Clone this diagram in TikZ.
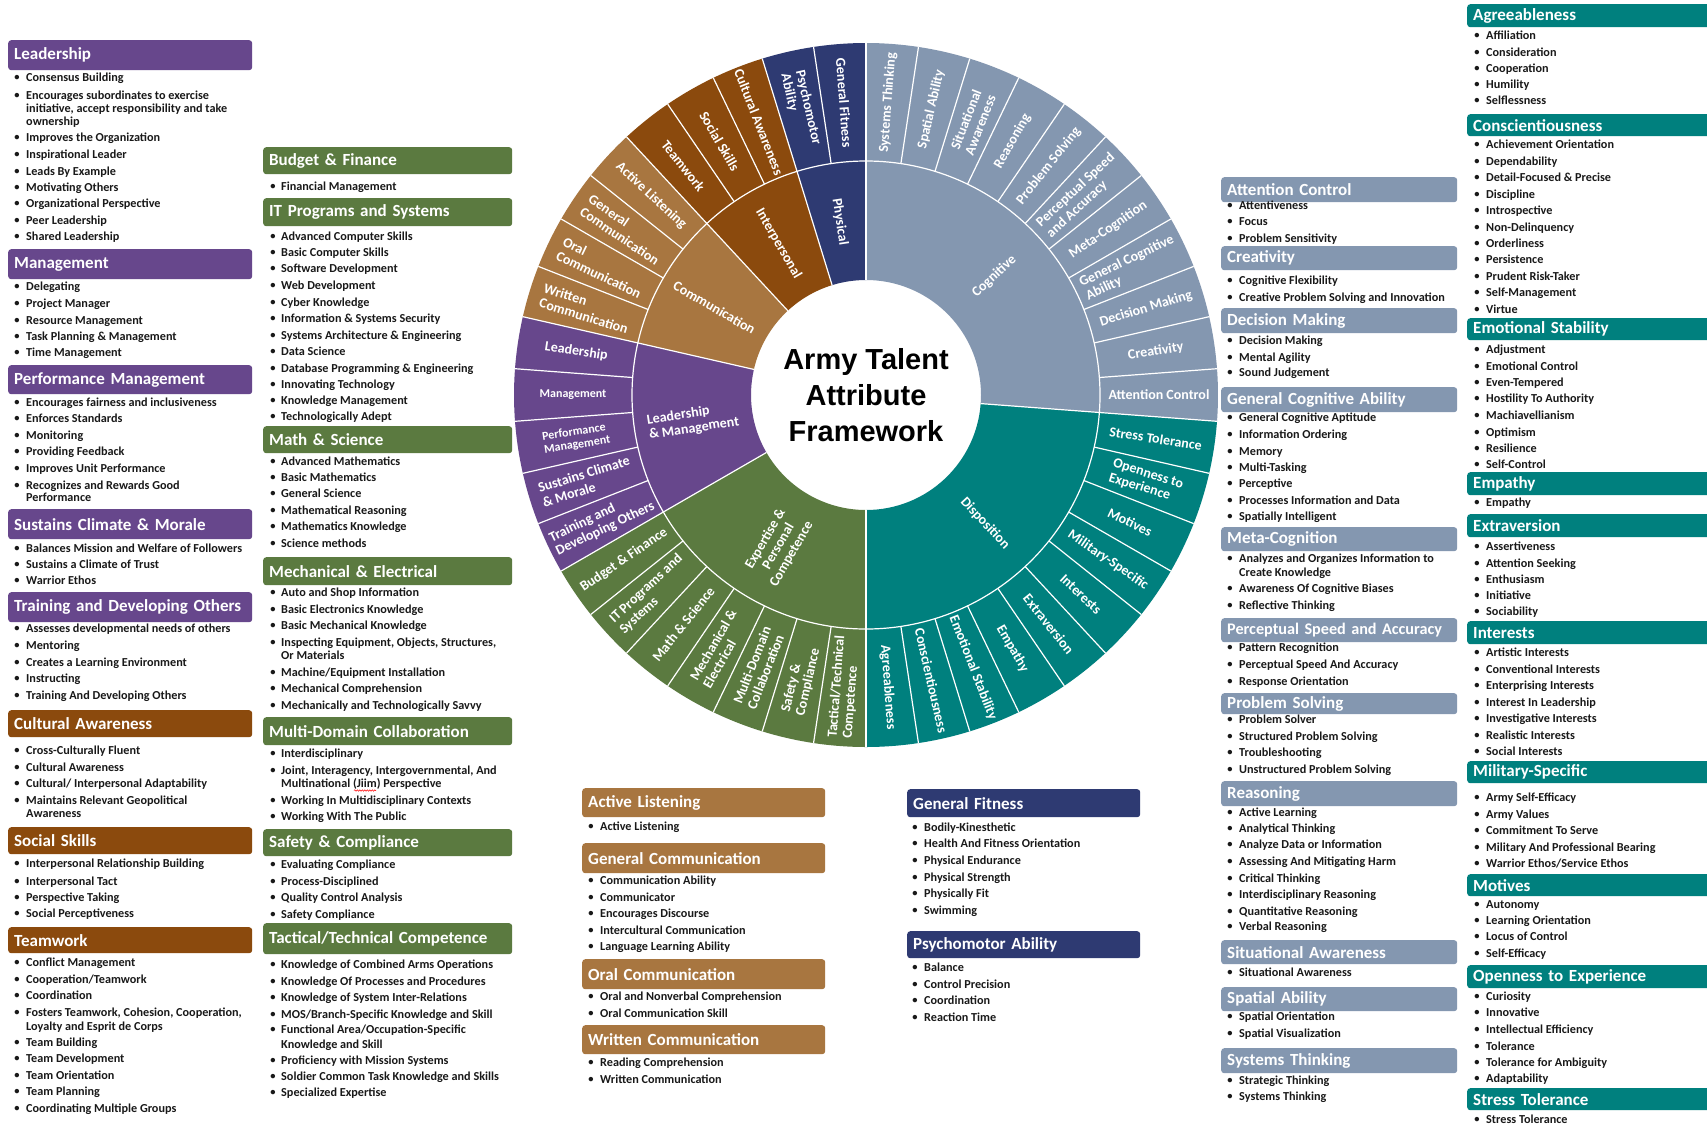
\documentclass[tikz,border=0pt]{standalone}
\usepackage{fontspec}
\setmainfont{Carlito}
\newfontfamily\titlefont{Liberation Sans}
\usetikzlibrary{decorations.pathmorphing}
\definecolor{purp}{HTML}{67478C}
\definecolor{brownD}{HTML}{8B4A0D}
\definecolor{tanc}{HTML}{A87640}
\definecolor{greenc}{HTML}{5B7A40}
\definecolor{navyc}{HTML}{2E3A72}
\definecolor{slate}{HTML}{8497B0}
\definecolor{tealc}{HTML}{00807E}
\newcounter{nn}
\def\hx{8}\def\bx{17}\def\tx{26}\def\htw{232pt}
\newcommand\hd[5][]{\stepcounter{nn}\node[hdr,fill=#2,text width=\htw,minimum height={#4-#3},anchor=north west,#1] (h\arabic{nn}) at (\hx,#3) {#5};}
\newcommand\bl[2]{\stepcounter{nn}\node[bul] (b\arabic{nn}) at (\bx,#1) {\textbullet};\node[itm] (t\arabic{nn}) at (\tx,#1) {#2};}
\newcommand\cl[2]{\stepcounter{nn}\node[itm] (t\arabic{nn}) at (\tx,#1) {#2};}
\newcommand\sector[5]{\fill[#1] ({#2}:#4) arc[start angle={#2}, end angle={#3}, radius=#4] -- ({#3}:#5) arc[start angle={#3}, end angle={#2}, radius=#5] -- cycle;}
\newcommand\olab[3][]{%
 \pgfmathsetmacro\mang{90-(#2+0.5)*8.5714286}%
 \pgfmathsetmacro\rang{\mang<-90 ? \mang+180 : \mang}%
 \stepcounter{nn}\node[slab,#1,rotate=\rang] (s\arabic{nn}) at (\mang:293) {#3};}
\newcommand\ilab[3][]{%
 \pgfmathsetmacro\mang{90-#2*8.5714286}%
 \pgfmathsetmacro\rang{\mang<-90 ? \mang+180 : \mang}%
 \stepcounter{nn}\node[slab,#1,rotate=\rang] (i\arabic{nn}) at (\mang:175) {#3};}
\tikzset{
 hdr/.style={rounded corners=3pt, inner xsep=6pt, inner ysep=0pt, text=white, font=\fontsize{17}{19}\selectfont\bfseries, align=left},
 hdrs/.style={font=\fontsize{16.2}{18}\selectfont\bfseries},
 itm/.style={anchor=west, inner sep=0pt, font=\fontsize{12.2}{14}\selectfont\bfseries, text=black!90, text height=8.3pt, text depth=2.3pt},
 bul/.style={inner sep=0pt, font=\fontsize{10.5}{12}\selectfont\bfseries, text=black!90},
 slab/.style={inner sep=0pt, text=white, font=\fontsize{14}{15}\selectfont\bfseries, align=left},
 smalllab/.style={font=\fontsize{12}{13}\selectfont\bfseries},
 sep/.style={draw=white, line width=1.2pt}
}
\begin{document}
\begin{tikzpicture}[x=1pt,y=-1pt]
\useasboundingbox (0,0) rectangle (1707,1125);
\fill[white] (0,0) rectangle (1707,1125);
% ---------------- sunburst ----------------
\begin{scope}[shift={(866,395)}, x=1pt, y=1pt]
\def\s{8.5714286}
\foreach \k in {0,...,10} {\sector{slate}{90-\k*\s}{90-(\k+1)*\s}{234}{352}}
\foreach \k in {11,...,20} {\sector{tealc}{90-\k*\s}{90-(\k+1)*\s}{234}{352}}
\foreach \k in {21,...,27} {\sector{greenc}{90-\k*\s}{90-(\k+1)*\s}{234}{352}}
\foreach \k in {28,...,32} {\sector{purp}{90-\k*\s}{90-(\k+1)*\s}{234}{352}}
\foreach \k in {33,...,36} {\sector{tanc}{90-\k*\s}{90-(\k+1)*\s}{234}{352}}
\foreach \k in {37,...,39} {\sector{brownD}{90-\k*\s}{90-(\k+1)*\s}{234}{352}}
\foreach \k in {40,41} {\sector{navyc}{90-\k*\s}{90-(\k+1)*\s}{234}{352}}
\sector{slate}{90}{90-11*\s}{115}{234}
\sector{tealc}{90-11*\s}{90-21*\s}{115}{234}
\sector{greenc}{90-21*\s}{90-28*\s}{115}{234}
\sector{purp}{90-28*\s}{90-33*\s}{115}{234}
\sector{tanc}{90-33*\s}{90-37*\s}{115}{234}
\sector{brownD}{90-37*\s}{90-40*\s}{115}{234}
\sector{navyc}{90-40*\s}{90-42*\s}{115}{234}
\foreach \k in {0,...,41} {\draw[sep] ({90-\k*\s}:234) -- ({90-\k*\s}:352);}
\foreach \k in {0,11,21,28,33,37,40} {\draw[sep] ({90-\k*\s}:115) -- ({90-\k*\s}:234);}
\draw[sep] (0,0) circle[radius=234];
\node[font=\titlefont\bfseries\fontsize{29}{36}\selectfont, align=center, inner sep=0pt] (title) at (0,0) {Army Talent\\Attribute\\Framework};
\olab{0}{Systems Thinking}
\olab{1}{Spatial Ability}
\olab{2}{Situational\\Awareness}
\olab{3}{Reasoning}
\olab{4}{Problem Solving}
\olab{5}{Perceptual Speed\\and Accuracy}
\olab{6}{Meta-Cognition}
\olab{7}{General Cognitive\\Ability}
\olab{8}{Decision Making}
\olab{9}{Creativity}
\olab{10}{Attention Control}
\olab{11}{Stress Tolerance}
\olab{12}{Openness to\\Experience}
\olab{13}{Motives}
\olab{14}{Military-Specific}
\olab{15}{Interests}
\olab{16}{Extraversion}
\olab{17}{Empathy}
\olab{18}{Emotional Stability}
\olab{19}{Conscientiousness}
\olab{20}{Agreeableness}
\olab{21}{Tactical/Technical\\Competence}
\olab{22}{Safety \&\\Compliance}
\olab{23}{Multi-Domain\\Collaboration}
\olab{24}{Mechanical \&\\Electrical}
\olab{25}{Math \& Science}
\olab{26}{IT Programs and\\Systems}
\olab{27}{Budget \& Finance}
\olab{28}{Training and\\Developing Others}
\olab{29}{Sustains Climate\\\& Morale}
\olab[smalllab]{30}{Performance\\Management}
\olab[smalllab]{31}{Management}
\olab{32}{Leadership}
\olab{33}{Written\\Communication}
\olab{34}{Oral\\Communication}
\olab{35}{General\\Communication}
\olab{36}{Active Listening}
\olab{37}{Teamwork}
\olab{38}{Social Skills}
\olab{39}{Cultural Awareness}
\olab{40}{Psychomotor\\Ability}
\olab{41}{General Fitness}
\ilab{5.5}{Cognitive}
\ilab{16}{Disposition}
\ilab[align=center]{24.5}{Expertise \&\\Personal\\Competence}
\ilab{30.5}{Leadership\\\& Management}
\ilab{35}{Communication}
\ilab{38.5}{Interpersonal}
\ilab{41}{Physical}
\end{scope}
% ---------------- column 1 ----------------
\def\hx{8}\def\bx{17}\def\tx{26}\def\htw{232pt}
\hd{purp}{40}{70}{Leadership}
\bl{78}{Consensus Building}
\bl{96}{Encourages subordinates to exercise}
\cl{109}{initiative, accept responsibility and take}
\cl{122}{ownership}
\bl{138}{Improves the Organization}
\bl{155}{Inspirational Leader}
\bl{172}{Leads By Example}
\bl{188}{Motivating Others}
\bl{204}{Organizational Perspective}
\bl{221}{Peer Leadership}
\bl{237}{Shared Leadership}
\hd{purp}{249}{279}{Management}
\bl{287}{Delegating}
\bl{304}{Project Manager}
\bl{321}{Resource Management}
\bl{337}{Task Planning \& Management}
\bl{353}{Time Management}
\hd{purp}{365}{394}{Performance Management}
\bl{403}{Encourages fairness and inclusiveness}
\bl{419}{Enforces Standards}
\bl{436}{Monitoring}
\bl{452}{Providing Feedback}
\bl{469}{Improves Unit Performance}
\bl{486}{Recognizes and Rewards Good}
\cl{498}{Performance}
\hd{purp}{509}{539}{Sustains Climate \& Morale}
\bl{549}{Balances Mission and Welfare of Followers}
\bl{565}{Sustains a Climate of Trust}
\bl{581}{Warrior Ethos}
\hd{purp}{592}{622}{Training and Developing Others}
\bl{629}{Assesses developmental needs of others}
\bl{646}{Mentoring}
\bl{663}{Creates a Learning Environment}
\bl{679}{Instructing}
\bl{696}{Training And Developing Others}
\hd{brownD}{710}{737}{Cultural Awareness}
\bl{751}{Cross-Culturally Fluent}
\bl{768}{Cultural Awareness}
\bl{784}{Cultural/ Interpersonal Adaptability}
\bl{801}{Maintains Relevant Geopolitical}
\cl{814}{Awareness}
\hd{brownD}{827}{854}{Social Skills}
\bl{864}{Interpersonal Relationship Building}
\bl{882}{Interpersonal Tact}
\bl{898}{Perspective Taking}
\bl{914}{Social Perceptiveness}
\hd{brownD}{927}{953}{Teamwork}
\bl{963}{Conflict Management}
\bl{980}{Cooperation/Teamwork}
\bl{996}{Coordination}
\bl{1013}{Fosters Teamwork, Cohesion, Cooperation,}
\cl{1027}{Loyalty and Esprit de Corps}
\bl{1043}{Team Building}
\bl{1059}{Team Development}
\bl{1076}{Team Orientation}
\bl{1092}{Team Planning}
\bl{1109}{Coordinating Multiple Groups}
% ---------------- column 2 ----------------
\def\hx{263}\def\bx{273}\def\tx{281}\def\htw{237pt}
\hd{greenc}{147}{174}{Budget \& Finance}
\bl{187}{Financial Management}
\hd{greenc}{198}{226}{IT Programs and Systems}
\bl{237}{Advanced Computer Skills}
\bl{253}{Basic Computer Skills}
\bl{269}{Software Development}
\bl{286}{Web Development}
\bl{303}{Cyber Knowledge}
\bl{319}{Information \& Systems Security}
\bl{336}{Systems Architecture \& Engineering}
\bl{352}{Data Science}
\bl{369}{Database Programming \& Engineering}
\bl{385}{Innovating Technology}
\bl{401}{Knowledge Management}
\bl{417}{Technologically Adept}
\hd{greenc}{426}{453}{Math \& Science}
\bl{462}{Advanced Mathematics}
\bl{478}{Basic Mathematics}
\bl{494}{General Science}
\bl{511}{Mathematical Reasoning}
\bl{527}{Mathematics Knowledge}
\bl{544}{Science methods}
\hd{greenc}{557}{585}{Mechanical \& Electrical}
\bl{593}{Auto and Shop Information}
\bl{610}{Basic Electronics Knowledge}
\bl{626}{Basic Mechanical Knowledge}
\bl{643}{Inspecting Equipment, Objects, Structures,}
\cl{656}{Or Materials}
\bl{673}{Machine/Equipment Installation}
\bl{689}{Mechanical Comprehension}
\bl{706}{Mechanically and Technologically Savvy}
\hd{greenc}{717}{745}{Multi-Domain Collaboration}
\bl{754}{Interdisciplinary}
\bl{771}{Joint, Interagency, Intergovernmental, And}
\cl{784}{Multinational (Jiim) Perspective}
\coordinate (jA) at (354,790.5);
\coordinate (jB) at (376,790.5);
\draw[red, line width=0.5pt, decorate, decoration={snake, amplitude=0.7pt, segment length=2.5pt}] (jA) -- (jB);
\bl{801}{Working In Multidisciplinary Contexts}
\bl{817}{Working With The Public}
\hd{greenc}{829}{856}{Safety \& Compliance}
\bl{865}{Evaluating Compliance}
\bl{882}{Process-Disciplined}
\bl{898}{Quality Control Analysis}
\bl{915}{Safety Compliance}
\hd{greenc}{923}{954}{Tactical/Technical Competence}
\bl{965}{Knowledge of Combined Arms Operations}
\bl{982}{Knowledge Of Processes and Procedures}
\bl{998}{Knowledge of System Inter-Relations}
\bl{1015}{MOS/Branch-Specific Knowledge and Skill}
\bl{1030}{Functional Area/Occupation-Specific}
\cl{1045}{Knowledge and Skill}
\bl{1061}{Proficiency with Mission Systems}
\bl{1077}{Soldier Common Task Knowledge and Skills}
\bl{1093}{Specialized Expertise}
% ---------------- column 3 ----------------
\def\hx{582}\def\bx{591}\def\tx{600}\def\htw{231pt}
\hd{tanc}{788}{817}{Active Listening}
\bl{827}{Active Listening}
\hd{tanc}{843}{873}{General Communication}
\bl{881}{Communication Ability}
\bl{898}{Communicator}
\bl{914}{Encourages Discourse}
\bl{931}{Intercultural Communication}
\bl{947}{Language Learning Ability}
\hd{tanc}{959}{989}{Oral Communication}
\bl{997}{Oral and Nonverbal Comprehension}
\bl{1014}{Oral Communication Skill}
\hd{tanc}{1025}{1054}{Written Communication}
\bl{1063}{Reading Comprehension}
\bl{1080}{Written Communication}
% ---------------- column 4 ----------------
\def\hx{907}\def\bx{915}\def\tx{924}\def\htw{221pt}
\hd{navyc}{789}{817}{General Fitness}
\bl{828}{Bodily-Kinesthetic}
\bl{844}{Health And Fitness Orientation}
\bl{861}{Physical Endurance}
\bl{878}{Physical Strength}
\bl{894}{Physically Fit}
\bl{911}{Swimming}
\hd{navyc}{931}{958}{Psychomotor Ability}
\bl{968}{Balance}
\bl{985}{Control Precision}
\bl{1001}{Coordination}
\bl{1018}{Reaction Time}
% ---------------- column 5 ----------------
\def\hx{1221}\def\bx{1230}\def\tx{1239}\def\htw{224pt}
\hd{slate}{177}{202}{Attention Control}
\bl{206}{Attentiveness}
\bl{222}{Focus}
\bl{239}{Problem Sensitivity}
\hd{slate}{246}{270}{Creativity}
\bl{281}{Cognitive Flexibility}
\bl{298}{Creative Problem Solving and Innovation}
\hd{slate}{308}{333}{Decision Making}
\bl{341}{Decision Making}
\bl{358}{Mental Agility}
\bl{373}{Sound Judgement}
\hd{slate}{387}{412}{General Cognitive Ability}
\bl{418}{General Cognitive Aptitude}
\bl{435}{Information Ordering}
\bl{452}{Memory}
\bl{468}{Multi-Tasking}
\bl{484}{Perceptive}
\bl{501}{Processes Information and Data}
\bl{517}{Spatially Intelligent}
\hd{slate}{527}{551}{Meta-Cognition}
\bl{559}{Analyzes and Organizes Information to}
\cl{573}{Create Knowledge}
\bl{589}{Awareness Of Cognitive Biases}
\bl{606}{Reflective Thinking}
\hd[hdrs]{slate}{618}{642}{Perceptual Speed and Accuracy}
\bl{648}{Pattern Recognition}
\bl{665}{Perceptual Speed And Accuracy}
\bl{682}{Response Orientation}
\hd{slate}{693}{714}{Problem Solving}
\bl{720}{Problem Solver}
\bl{737}{Structured Problem Solving}
\bl{753}{Troubleshooting}
\bl{770}{Unstructured Problem Solving}
\hd{slate}{781}{806}{Reasoning}
\bl{813}{Active Learning}
\bl{829}{Analytical Thinking}
\bl{845}{Analyze Data or Information}
\bl{862}{Assessing And Mitigating Harm}
\bl{879}{Critical Thinking}
\bl{895}{Interdisciplinary Reasoning}
\bl{912}{Quantitative Reasoning}
\bl{927}{Verbal Reasoning}
\hd{slate}{940}{964}{Situational Awareness}
\bl{973}{Situational Awareness}
\hd{slate}{987}{1011}{Spatial Ability}
\bl{1017}{Spatial Orientation}
\bl{1034}{Spatial Visualization}
\hd{slate}{1048}{1073}{Systems Thinking}
\bl{1081}{Strategic Thinking}
\bl{1097}{Systems Thinking}
% ---------------- column 6 ----------------
\def\hx{1467}\def\bx{1477}\def\tx{1486}\def\htw{238pt}
\hd{tealc}{4}{27}{Agreeableness}
\bl{36}{Affiliation}
\bl{53}{Consideration}
\bl{69}{Cooperation}
\bl{85}{Humility}
\bl{101}{Selflessness}
\hd{tealc}{114}{136}{Conscientiousness}
\bl{145}{Achievement Orientation}
\bl{162}{Dependability}
\bl{178}{Detail-Focused \& Precise}
\bl{195}{Discipline}
\bl{211}{Introspective}
\bl{228}{Non-Delinquency}
\bl{244}{Orderliness}
\bl{260}{Persistence}
\bl{277}{Prudent Risk-Taker}
\bl{293}{Self-Management}
\bl{310}{Virtue}
\hd{tealc}{318}{340}{Emotional Stability}
\bl{350}{Adjustment}
\bl{367}{Emotional Control}
\bl{383}{Even-Tempered}
\bl{399}{Hostility To Authority}
\bl{416}{Machiavellianism}
\bl{433}{Optimism}
\bl{449}{Resilience}
\bl{465}{Self-Control}
\hd{tealc}{472}{495}{Empathy}
\bl{503}{Empathy}
\hd{tealc}{514}{537}{Extraversion}
\bl{547}{Assertiveness}
\bl{564}{Attention Seeking}
\bl{580}{Enthusiasm}
\bl{596}{Initiative}
\bl{612}{Sociability}
\hd{tealc}{621}{644}{Interests}
\bl{653}{Artistic Interests}
\bl{670}{Conventional Interests}
\bl{686}{Enterprising Interests}
\bl{703}{Interest In Leadership}
\bl{719}{Investigative Interests}
\bl{736}{Realistic Interests}
\bl{752}{Social Interests}
\hd{tealc}{761}{783}{Military-Specific}
\bl{798}{Army Self-Efficacy}
\bl{815}{Army Values}
\bl{831}{Commitment To Serve}
\bl{848}{Military And Professional Bearing}
\bl{864}{Warrior Ethos/Service Ethos}
\hd{tealc}{874}{896}{Motives}
\bl{905}{Autonomy}
\bl{921}{Learning Orientation}
\bl{937}{Locus of Control}
\bl{954}{Self-Efficacy}
\hd{tealc}{965}{988}{Openness to Experience}
\bl{997}{Curiosity}
\bl{1013}{Innovative}
\bl{1030}{Intellectual Efficiency}
\bl{1047}{Tolerance}
\bl{1063}{Tolerance for Ambiguity}
\bl{1079}{Adaptability}
\hd{tealc}{1088}{1110}{Stress Tolerance}
\bl{1120}{Stress Tolerance}
\end{tikzpicture}
\end{document}
